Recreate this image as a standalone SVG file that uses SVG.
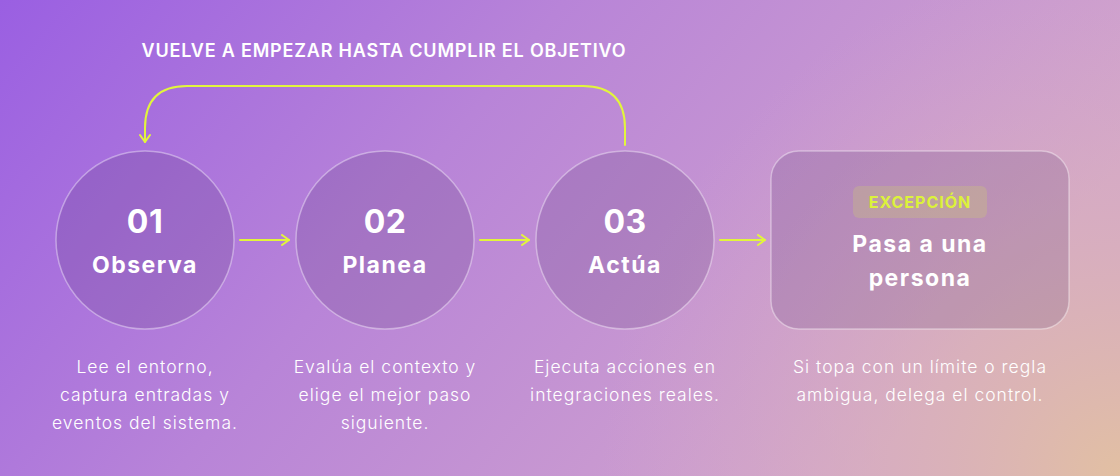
<svg xmlns="http://www.w3.org/2000/svg" width="1120" height="476" viewBox="0 0 1120 476">
  <defs>
    <linearGradient id="bg" x1="0" y1="0" x2="1" y2="0.35">
      <stop offset="0" stop-color="#9a5fe2"/>
      <stop offset="0.45" stop-color="#b884d8"/>
      <stop offset="1" stop-color="#d3a6cc"/>
    </linearGradient>
    <radialGradient id="peach" cx="1120" cy="476" r="520" gradientUnits="userSpaceOnUse">
      <stop offset="0" stop-color="#e2c0a2" stop-opacity="1"/>
      <stop offset="0.5" stop-color="#dbb3b6" stop-opacity="0.5"/>
      <stop offset="1" stop-color="#d6a8c6" stop-opacity="0"/>
    </radialGradient>
    <marker id="ah" viewBox="0 0 12 12" refX="10" refY="6" markerWidth="12" markerHeight="12" markerUnits="userSpaceOnUse" orient="auto">
      <path d="M3,1 L10,6 L3,11" fill="none" stroke="#e2f53c" stroke-width="2" stroke-linecap="round" stroke-linejoin="round"/>
    </marker>
    <style>
      .node { fill: rgba(70,40,100,0.17); stroke: rgba(255,255,255,0.38); stroke-width: 1.5; }
      .num { font-family: Inter, "Liberation Sans", sans-serif; font-weight: 700; font-size: 32px; letter-spacing: 0.5px; fill: #ffffff; text-anchor: middle; }
      .lbl { font-family: Inter, "Liberation Sans", sans-serif; font-weight: 700; font-size: 23px; letter-spacing: 1.5px; fill: #ffffff; text-anchor: middle; }
      .desc { font-family: Inter, "Liberation Sans", sans-serif; font-weight: 300; font-size: 17.5px; letter-spacing: 1px; fill: #ffffff; text-anchor: middle; }
      .title { font-family: Inter, "Liberation Sans", sans-serif; font-weight: 600; font-size: 18px; letter-spacing: 0.8px; fill: #ffffff; text-anchor: middle; }
      .badge { font-family: Inter, "Liberation Sans", sans-serif; font-weight: 700; font-size: 16px; letter-spacing: 1px; fill: #dcf23a; text-anchor: middle; }
      .conn { fill: none; stroke: #e2f53c; stroke-width: 2; stroke-linecap: round; }
    </style>
  </defs>

  <rect x="0" y="0" width="1120" height="476" fill="url(#bg)"/>
  <rect x="0" y="0" width="1120" height="476" fill="url(#peach)"/>

  <text class="title" x="384" y="57">VUELVE A EMPEZAR HASTA CUMPLIR EL OBJETIVO</text>

  <g id="connectors">
    <path class="conn" d="M625,145 L625,128 Q625,86 583,86 L187,86 Q145,86 145,128 L145,142" marker-end="url(#ah)"/>
    <path class="conn" d="M240,240 L289,240" marker-end="url(#ah)"/>
    <path class="conn" d="M480,240 L529,240" marker-end="url(#ah)"/>
    <path class="conn" d="M720,240 L765,240" marker-end="url(#ah)"/>
  </g>

  <g id="node-observa">
    <circle class="node" cx="145" cy="240" r="89"/>
    <text class="num" x="145" y="233">01</text>
    <text class="lbl" x="145" y="273">Observa</text>
    <text class="desc" x="145" y="373">Lee el entorno,</text>
    <text class="desc" x="145" y="401">captura entradas y</text>
    <text class="desc" x="145" y="429">eventos del sistema.</text>
  </g>

  <g id="node-planea">
    <circle class="node" cx="385" cy="240" r="89"/>
    <text class="num" x="385" y="233">02</text>
    <text class="lbl" x="385" y="273">Planea</text>
    <text class="desc" x="385" y="373">Evalúa el contexto y</text>
    <text class="desc" x="385" y="401">elige el mejor paso</text>
    <text class="desc" x="385" y="429">siguiente.</text>
  </g>

  <g id="node-actua">
    <circle class="node" cx="625" cy="240" r="89"/>
    <text class="num" x="625" y="233">03</text>
    <text class="lbl" x="625" y="273">Actúa</text>
    <text class="desc" x="625" y="373">Ejecuta acciones en</text>
    <text class="desc" x="625" y="401">integraciones reales.</text>
  </g>

  <g id="node-excepcion">
    <rect class="node" x="771" y="151" width="298" height="178" rx="28"/>
    <rect x="853" y="186" width="134" height="32" rx="6" fill="rgba(215,225,90,0.22)"/>
    <text class="badge" x="920" y="208">EXCEPCIÓN</text>
    <text class="lbl" x="920" y="252">Pasa a una</text>
    <text class="lbl" x="920" y="286">persona</text>
    <text class="desc" x="920" y="373">Si topa con un límite o regla</text>
    <text class="desc" x="920" y="401">ambigua, delega el control.</text>
  </g>
</svg>
